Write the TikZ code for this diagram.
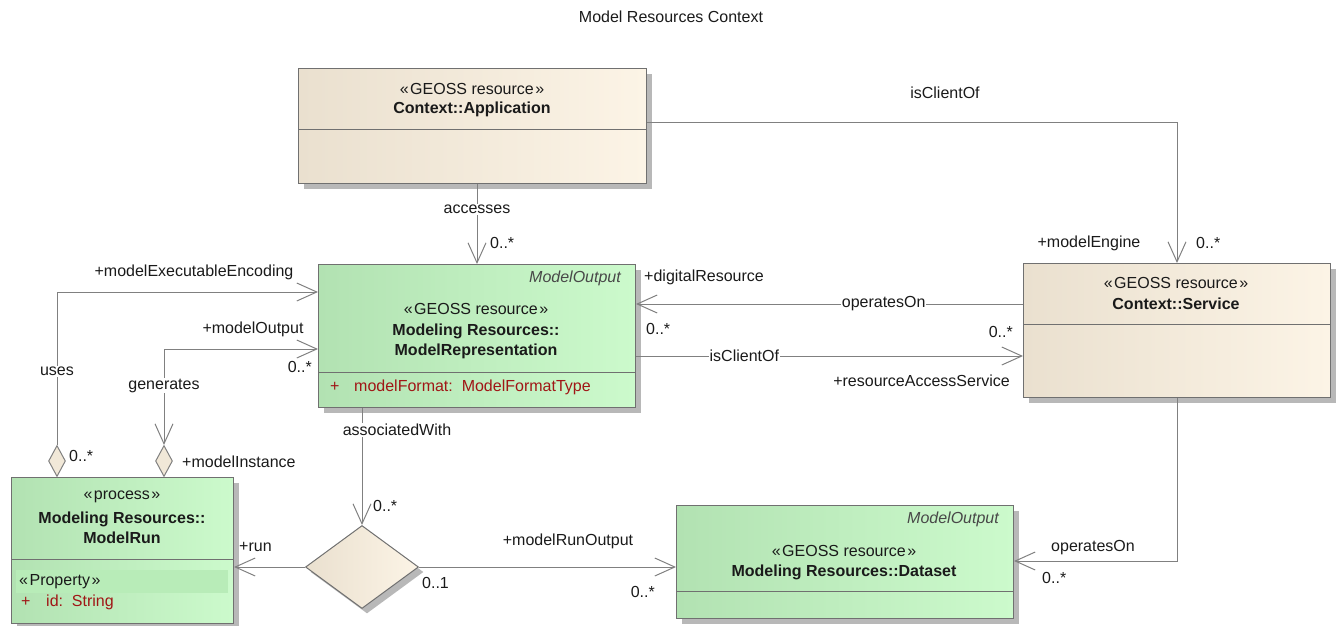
\documentclass[tikz,border=0pt]{standalone}
\usepackage{fontspec}
\setmainfont{Liberation Sans}
\usepackage{tikz}
\usetikzlibrary{arrows.meta, shapes.geometric, shadows, calc, positioning}

\definecolor{umlbeigeL}{RGB}{234,224,207}
\definecolor{umlbeigeR}{RGB}{252,244,230}
\definecolor{umlgreenL}{RGB}{178,226,178}
\definecolor{umlgreenR}{RGB}{204,250,204}
\definecolor{umlprop}{RGB}{184,236,184}
\definecolor{umlline}{RGB}{128,128,128}
\definecolor{umlborder}{RGB}{112,112,112}
\definecolor{umlattr}{RGB}{160,22,22}
\definecolor{umlink}{RGB}{26,26,26}

\tikzset{
	umltext/.style={font=\fontsize{16}{20}\selectfont\color{umlink}, inner sep=1pt, align=center}
}
\tikzset{
	boldtext/.style={umltext, font=\fontsize{16}{20}\selectfont\bfseries\color{umlink}},
	italtext/.style={umltext, font=\fontsize{16}{20}\selectfont\itshape\color{umlink!80}},
	attrtext/.style={umltext, font=\fontsize{16}{20}\selectfont\color{umlattr}},
	linelabel/.style={umltext, fill=white}
}
\tikzset{
	classbox/.style={draw=umlborder, line width=1pt, anchor=north west, inner sep=0pt,
		drop shadow={shadow xshift=5pt, shadow yshift=-5pt, fill=black!28, opacity=1}},
	contextbox/.style={classbox, left color=umlbeigeL, right color=umlbeigeR},
	modelbox/.style={classbox, left color=umlgreenL, right color=umlgreenR},
	aggdiamond/.style={diamond, draw=umlline, line width=1pt, fill=umlbeigeL!60!umlbeigeR,
		minimum width=17pt, minimum height=31pt, inner sep=0pt},
	narydiamond/.style={diamond, draw=umlborder, line width=1pt, left color=umlbeigeL,
		right color=umlbeigeR, minimum width=113pt, minimum height=83pt, inner sep=0pt,
		drop shadow={shadow xshift=5pt, shadow yshift=-5pt, fill=black!28, opacity=1}},
	assoc/.style={draw=umlline, line width=1pt, -{Straight Barb[length=20pt, width=18pt]}},
	bothassoc/.style={assoc, {Straight Barb[length=20pt, width=18pt]}-{Straight Barb[length=20pt, width=18pt]}}
}
\newcommand{\stype}[1]{«\kern1.5pt#1\kern1.5pt»}

\begin{document}
\begin{tikzpicture}[x=1pt, y=-1pt]
      \useasboundingbox (0,0) rectangle (1336,625);
      \node[umltext] (title) at (671,17) {Model Resources Context};
      % context classes
      \node[contextbox, minimum width=348pt, minimum height=115pt] (app) at (298,68) {};
      \node[umltext] (appstereo) at (472,89) {\stype{GEOSS resource}};
      \node[boldtext] (appname) at (472,109) {Context::Application};
      \node[contextbox, minimum width=307pt, minimum height=134pt] (svc) at (1023,263) {};
      \node[umltext] (svcstereo) at (1176,283) {\stype{GEOSS resource}};
      \node[boldtext] (svcname) at (1176,304) {Context::Service};
      % model classes
      \node[modelbox, minimum width=317pt, minimum height=143pt] (rep) at (318,264) {};
      \node[italtext, anchor=east] (repabs) at (622,278) {ModelOutput};
      \node[umltext] (repstereo) at (476,309) {\stype{GEOSS resource}};
      \node[boldtext] (repname) at (476,341) {Modeling Resources::\\ModelRepresentation};
      \node[attrtext, anchor=west] (repplus) at (329,387) {+};
      \node[attrtext, anchor=west] (repattr) at (353,387) {modelFormat:\ \ ModelFormatType};
      \node[modelbox, minimum width=222pt, minimum height=146pt] (run) at (11,477) {};
      \node[umltext] (runstereo) at (122,497) {\stype{process}};
      \node[boldtext] (runname) at (122,528) {Modeling Resources::\\ModelRun};
      \node[fill=umlprop, anchor=north west, minimum width=212pt, minimum height=23pt, inner sep=0pt] (runprop) at (16,570) {};
      \node[umltext, anchor=west] (runpropname) at (18,582) {\stype{Property}};
      \node[attrtext, anchor=west] (runplus) at (20,602) {+};
      \node[attrtext, anchor=west] (runattr) at (45,602) {id:\ \ String};
      \node[modelbox, minimum width=337pt, minimum height=113pt] (data) at (676,505) {};
      \node[italtext, anchor=east] (dataabs) at (1000,519) {ModelOutput};
      \node[umltext] (datastereo) at (844,551) {\stype{GEOSS resource}};
      \node[boldtext] (dataname) at (844,572) {Modeling Resources::Dataset};
      % compartment lines
      \foreach \b/\y in {app/129, svc/324, rep/372, run/559, data/591} {
        \draw[umlborder, line width=1pt] (\b.west |- 0,\y) -- (\b.east |- 0,\y);
      }
      % diamonds
      \node[narydiamond] (nary) at (362,567) {};
      \node[aggdiamond] (usesagg) at (57,461) {};
      \node[aggdiamond] (genagg) at (164,461) {};
      % associations
      \draw[assoc] (app.south -| rep.north) -- node[linelabel, pos=0.32] (accesseslbl) {accesses} (rep.north);
      \node[umltext, anchor=west] (accessesmult) at (489,243) {0..*};
      \draw[assoc] ($(app.north east)+(0,54)$) -| (svc.north);
      \node[umltext] (clientlbl) at (945,93) {isClientOf};
      \node[umltext] (enginerole) at (1089,243) {+modelEngine};
      \node[umltext, anchor=west] (enginemult) at (1195,243) {0..*};
      \draw[assoc] ($(svc.north west)+(0,41)$) -- node[linelabel, pos=0.36] (operateslbl) {operatesOn} ($(rep.north east)+(0,40)$);
      \node[umltext, anchor=west] (digitalrole) at (643,277) {+digitalResource};
      \node[umltext, anchor=west] (digitalmult) at (645,329) {0..*};
      \draw[assoc] ($(rep.north east)+(0,92)$) -- node[linelabel, pos=0.28] (clientmidlbl) {isClientOf} ($(svc.north west)+(0,93)$);
      \node[umltext, anchor=east] (accessmult) at (1014,332) {0..*};
      \node[umltext, anchor=east] (accessrole) at (1011,381) {+resourceAccessService};
      \draw[assoc] (usesagg.north) |- node[linelabel, pos=0.24] (useslbl) {uses} ($(rep.north west)+(0,28)$);
      \node[umltext] (encrole) at (194,272) {+modelExecutableEncoding};
      \node[umltext, anchor=west] (encmult) at (68,456) {0..*};
      \draw[bothassoc] ($(rep.north west)+(0,85)$) -| node[linelabel, pos=0.69] (genlbl) {generates} (genagg.north);
      \node[umltext] (outrole) at (253,329) {+modelOutput};
      \node[umltext, anchor=east] (outmult) at (313,367) {0..*};
      \node[umltext, anchor=west] (instrole) at (181,462) {+modelInstance};
      \draw[assoc] (rep.south -| nary.north) -- node[linelabel, pos=0.19, xshift=35pt] (assoclbl) {associatedWith} (nary.north);
      \node[umltext, anchor=west] (assocmult) at (372,506) {0..*};
      \draw[assoc] (nary.west) -- (nary.west -| run.east);
      \node[umltext, anchor=west] (runrole) at (238,547) {+run};
      \draw[assoc] (nary.east) -- (nary.east -| data.west);
      \node[umltext] (outputrole) at (568,541) {+modelRunOutput};
      \node[umltext, anchor=west] (outputone) at (421,583) {0..1};
      \node[umltext, anchor=east] (outputmult) at (656,592) {0..*};
      \draw[assoc] (svc.south) |- ($(data.north east)+(0,56)$);
      \node[umltext] (operatesbotlbl) at (1093,548) {operatesOn};
      \node[umltext, anchor=west] (operatesbotmult) at (1041,578) {0..*};
    \end{tikzpicture}
\end{document}
